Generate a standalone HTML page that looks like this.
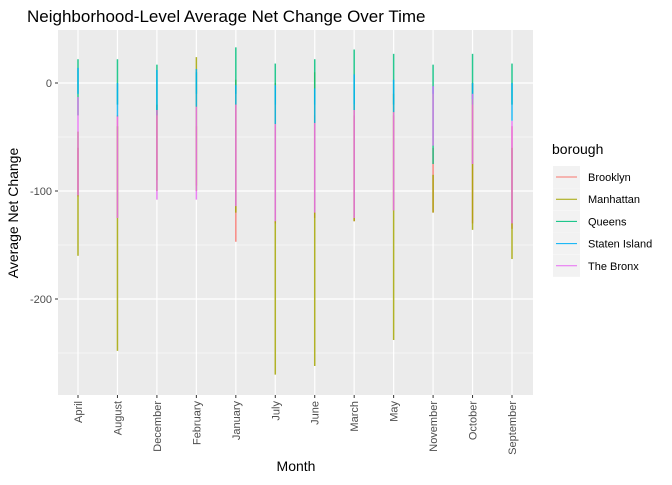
<!DOCTYPE html>
<html><head><meta charset="utf-8"><style>
body{margin:0;background:#fff;font-family:"Liberation Sans",sans-serif;}
</style></head><body>
<svg id="chart" width="672" height="480" xmlns="http://www.w3.org/2000/svg" font-family="Liberation Sans, sans-serif">
<text x="27" y="22" font-size="17" fill="#000">Neighborhood-Level Average Net Change Over Time</text>
<rect x="58" y="30" width="475" height="365" fill="#EBEBEB"/>
<g id="grid"></g><g id="marks"></g><g id="axes"></g>
<text transform="translate(18,213) rotate(-90)" text-anchor="middle" font-size="14">Average Net Change</text>
<text x="296" y="471" text-anchor="middle" font-size="14">Month</text>
<g id="legend"></g>
</svg>
<script>
const months=["April","August","December","February","January","July","June","March","May","November","October","September"];
const boroughs=["Brooklyn","Manhattan","Queens","Staten Island","The Bronx"];
const colors=["#F8766D","#A3A500","#00BF7D","#00B0F6","#E76BF3"];
const brooklynMin=[-105,-125,-90,-95,-147,-130,-125,-128,-118,-120,-130,-135];
const brooklynMax=[-60,-30,-25,-40,-20,-40,-30,-30,-30,-60,-20,-40];
const manhattanMin=[-160,-248,-100,-100,-120,-270,-262,-128,-238,-120,-136,-163];
const manhattanMax=[-45,-40,-20,24,3,0,10,-20,-10,-85,0,-60];
const queensMin=[-30,-20,-30,-10,-10,-20,-20,-20,-20,-75,-20,-20];
const queensMax=[22,22,17,10,33,18,22,31,27,17,27,18];
const statenMin=[-10,-31,-25,-22,-20,-38,-37,-25,-27,-10,-15,-35];
const statenMax=[14,0,12,13,-2,-2,-5,8,3,-3,0,0];
const bronxMin=[-104,-125,-108,-108,-114,-128,-120,-125,-118,-58,-75,-130];
const bronxMax=[-13,-31,-25,-22,-20,-38,-37,-25,-27,-3,-10,-35];
const yTicks=[0,-100,-200];
const mins=[brooklynMin,manhattanMin,queensMin,statenMin,bronxMin];
const maxs=[brooklynMax,manhattanMax,queensMax,statenMax,bronxMax];
const NS="http://www.w3.org/2000/svg";
const x0=58,x1=533,y0=30,y1=395;
const xs=i=>78+i*(512-78)/(months.length-1);
const ys=v=>83-v*1.08;
function mk(t,a,p){const e=document.createElementNS(NS,t);for(const k in a)e.setAttribute(k,a[k]);p.appendChild(e);return e;}
const grid=document.getElementById('grid'),marks=document.getElementById('marks'),axes=document.getElementById('axes'),leg=document.getElementById('legend');
for(let k=0;k<yTicks.length;k++){const v=yTicks[k];
 const m=mk('line',{x1:x0,x2:x1,y1:ys(v-50),y2:ys(v-50),stroke:'#fff','stroke-width':0.6},grid);
 
 const g=mk('line',{x1:x0,x2:x1,y1:ys(v),y2:ys(v),stroke:'#fff','stroke-width':1.2},grid);
 
 const t=mk('text',{x:52,y:ys(v)+4,'text-anchor':'end','font-size':11,fill:'#4D4D4D'},axes);t.textContent=v;
 
 mk('line',{x1:55,x2:58,y1:ys(v),y2:ys(v),stroke:'#333'},axes);
}
for(let i=0;i<months.length;i++){const x=xs(i);
 const g=mk('line',{x1:x,x2:x,y1:y0,y2:y1,stroke:'#fff','stroke-width':1.2},grid);
 
 mk('line',{x1:x,x2:x,y1:y1,y2:y1+3,stroke:'#333'},axes);
 const t=mk('text',{transform:`translate(${x+4},${y1+6}) rotate(-90)`,'text-anchor':'end','font-size':11,fill:'#4D4D4D'},axes);t.textContent=months[i];
 
 for(let b=0;b<boroughs.length;b++){
  const l=mk('line',{x1:x,x2:x,y1:ys(maxs[b][i]),y2:ys(mins[b][i]),stroke:colors[b],'stroke-width':1.5,'stroke-opacity':0.85},marks);
  
 }
}
const lt=mk('text',{x:552,y:154,'font-size':14},leg);lt.textContent='borough';

for(let b=0;b<boroughs.length;b++){const y=177+b*22.2;
 const r=mk('rect',{x:553,y:y-11,width:27,height:22,fill:'#F2F2F2'},leg);
 
 mk('line',{x1:556,x2:577,y1:y,y2:y,stroke:colors[b],'stroke-width':1},leg);
 const t=mk('text',{x:588,y:y+4,'font-size':11},leg);t.textContent=boroughs[b];
 
}
</script>
</body></html>
